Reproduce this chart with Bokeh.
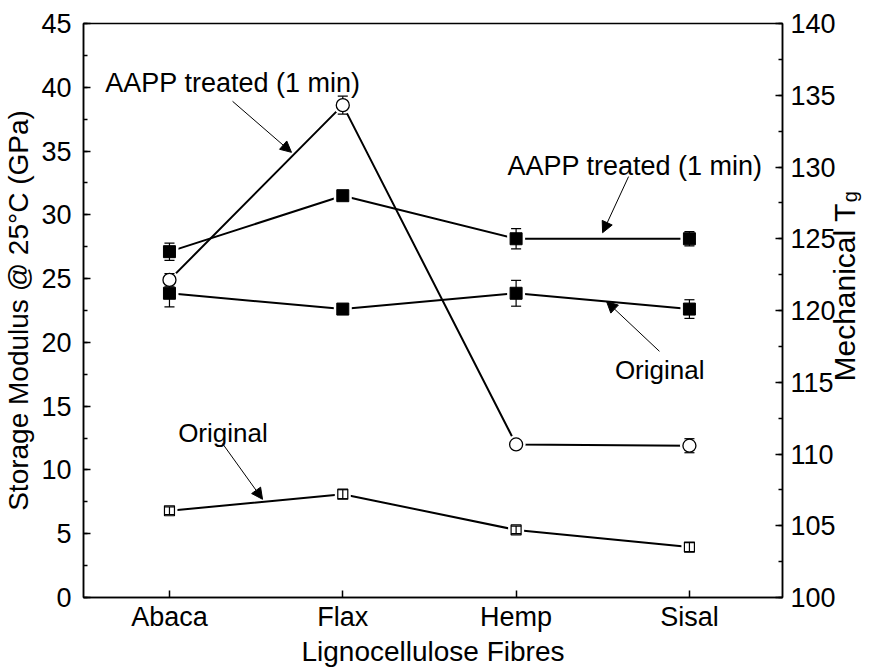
import math
from bokeh.plotting import figure
from bokeh.layouts import row
from bokeh.models import (Range1d, LinearAxis, FixedTicker, Arrow, NormalHead, Label)
from bokeh.embed import file_html
from bokeh.resources import INLINE

# ---- data ----
fibres = ["Abaca", "Flax", "Hemp", "Sisal"]
xpos = [1, 2, 3, 4]
sm_orig = [6.8, 8.1, 5.3, 3.95]
sm_orig_err = [0.3, 0.35, 0.3, 0.35]
sm_aapp = [24.9, 38.6, 12.0, 11.9]
sm_aapp_err = [0.5, 0.7, 0.3, 0.55]
tg_orig = [121.2, 120.1, 121.2, 120.1]
tg_orig_err = [0.95, 0.2, 0.9, 0.65]
tg_aapp = [124.1, 128.0, 125.0, 125.0]
tg_aapp_err = [0.6, 0.2, 0.7, 0.5]

FONT = "Liberation Sans"
TICK_FS = "27px"
TITLE_FS = "28px"

p = figure(frame_width=699, frame_height=574, x_range=Range1d(0.504, 4.537),
           y_range=Range1d(0, 45), output_backend="svg", toolbar_location=None,
           min_border_left=83, min_border_right=54, min_border_top=23, min_border_bottom=74)
p.extra_y_ranges = {"tg": Range1d(100, 140)}
p.grid.visible = False
p.outline_line_color = "black"
p.outline_line_width = 1.5
p.background_fill_color = "white"
p.border_fill_color = "white"

def style_axis(ax):
    ax.axis_line_width = 1.5
    ax.axis_line_color = "black"
    ax.major_tick_in = 7
    ax.major_tick_out = 0
    ax.minor_tick_in = 4
    ax.minor_tick_out = 0
    ax.major_tick_line_width = 1.5
    ax.minor_tick_line_width = 1.5
    ax.major_label_text_font = FONT
    ax.major_label_text_font_size = TICK_FS
    ax.major_label_text_color = "black"
    ax.axis_label_text_font = FONT
    ax.axis_label_text_font_size = TITLE_FS
    ax.axis_label_text_font_style = "normal"
    ax.axis_label_text_color = "black"

xa = p.xaxis[0]
xa.ticker = FixedTicker(ticks=xpos)
xa.major_label_overrides = {x: f for x, f in zip(xpos, fibres)}
xa.axis_label = "Lignocellulose Fibres"
style_axis(xa)
xa.major_label_standoff = 4
xa.axis_label_standoff = 1

ya = p.yaxis[0]
ya.ticker = FixedTicker(ticks=list(range(0, 46, 5)), minor_ticks=[i * 2.5 for i in range(19)])
ya.axis_label = "Storage Modulus @ 25°C (GPa)"
style_axis(ya)
ya.major_label_standoff = 12
ya.axis_label_standoff = 4

ra = LinearAxis(y_range_name="tg")
ra.ticker = FixedTicker(ticks=list(range(100, 141, 5)), minor_ticks=[100 + i * 2.5 for i in range(17)])
style_axis(ra)
ra.major_label_standoff = 8
p.add_layout(ra, "right")

# ---- lines ----
p.line(xpos, sm_orig, line_color="black", line_width=2)
p.line(xpos, sm_aapp, line_color="black", line_width=2)
p.line(xpos, tg_orig, line_color="black", line_width=2, y_range_name="tg")
p.line(xpos, tg_aapp, line_color="black", line_width=2, y_range_name="tg")

# halos (gap between line and marker)
p.scatter(xpos, sm_orig, marker="square", size=16, fill_color="white", line_color=None)
p.scatter(xpos, sm_aapp, marker="circle", size=19, fill_color="white", line_color=None)
p.scatter(xpos, tg_orig, marker="square", size=18, fill_color="white", line_color=None, y_range_name="tg")
p.scatter(xpos, tg_aapp, marker="square", size=18, fill_color="white", line_color=None, y_range_name="tg")

CAP = 0.029
def errbars(y, e, rn="default"):
    lo = [a - b for a, b in zip(y, e)]
    hi = [a + b for a, b in zip(y, e)]
    xl = [x - CAP for x in xpos]
    xr = [x + CAP for x in xpos]
    p.segment(x0=xpos, y0=lo, x1=xpos, y1=hi, line_color="black", line_width=1.2, y_range_name=rn)
    p.segment(x0=xl, y0=hi, x1=xr, y1=hi, line_color="black", line_width=1.2, y_range_name=rn)
    p.segment(x0=xl, y0=lo, x1=xr, y1=lo, line_color="black", line_width=1.2, y_range_name=rn)

errbars(sm_aapp, sm_aapp_err)
errbars(tg_orig, tg_orig_err, "tg")
errbars(tg_aapp, tg_aapp_err, "tg")

# markers
p.scatter(xpos, sm_aapp, marker="circle", size=13, fill_color="white", line_color="black", line_width=1.3)
p.scatter(xpos, tg_orig, marker="square", size=12, fill_color="black", line_color="black", y_range_name="tg")
p.scatter(xpos, tg_aapp, marker="square", size=12, fill_color="black", line_color="black", y_range_name="tg")
p.scatter(xpos, sm_orig, marker="square", size=10, fill_color="white", line_color="black", line_width=1.2)
errbars(sm_orig, sm_orig_err)

# ---- annotations ----
def lab(x, y, t, fs):
    p.add_layout(Label(x=x, y=y, text=t, text_font=FONT, text_font_size=fs,
                       text_color="black", text_baseline="alphabetic", text_align="left"))

lab(0.63, 40.3, "AAPP treated (1 min)", "27px")
lab(1.05, 12.86, "Original", "26px")
lab(2.95, 33.8, "AAPP treated (1 min)", "27px")
lab(3.57, 17.8, "Original", "26px")

def arrow(x0, y0, x1, y1):
    p.add_layout(Arrow(x_start=x0, y_start=y0, x_end=x1, y_end=y1, line_color="black", line_width=1,
                       end=NormalHead(size=11, fill_color="black", line_color="black", line_width=1)))

arrow(1.364, 38.9, 1.704, 34.9)
arrow(1.306, 12.07, 1.537, 7.7)
arrow(3.649, 33.0, 3.499, 28.6)
arrow(3.827, 19.3, 3.522, 23.2)

# ---- right-hand title panel (Mechanical T with subscript g), overlapping p's right border ----
p2 = figure(width=60, height=671, x_range=Range1d(0, 60), y_range=Range1d(0, 671),
            output_backend="svg", toolbar_location=None, min_border=0)
p2.min_border_left = 0
p2.min_border_right = 0
p2.min_border_top = 0
p2.min_border_bottom = 0
p2.margin = (0, 0, 0, -36)
p2.axis.visible = False
p2.grid.visible = False
p2.outline_line_color = None
p2.background_fill_alpha = 0
p2.border_fill_alpha = 0
p2.add_layout(Label(x=42, y=461, text="Mechanical T", angle=math.pi / 2, text_font=FONT,
                    text_font_size="30px", text_color="black", text_baseline="alphabetic",
                    text_align="right"))
p2.add_layout(Label(x=47, y=462, text="g", angle=math.pi / 2, text_font=FONT,
                    text_font_size="20px", text_color="black", text_baseline="alphabetic",
                    text_align="left"))

layout = row(p, p2, spacing=0)
open("out.html", "w").write(file_html(layout, INLINE))
